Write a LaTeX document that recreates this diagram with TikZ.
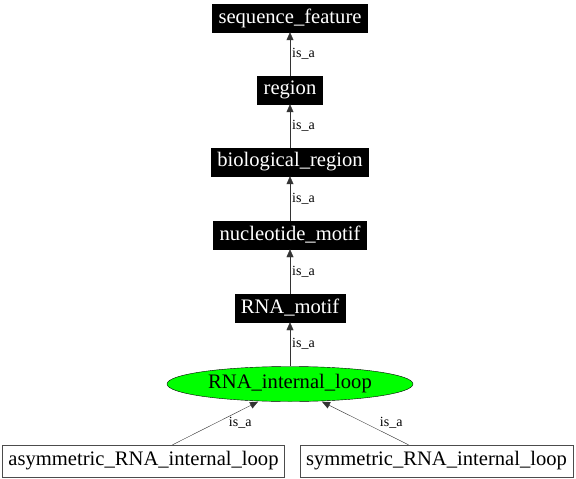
\documentclass[tikz,border=0pt]{standalone}
\usepackage{fontspec}
\setmainfont{Liberation Serif}
\usetikzlibrary{arrows.meta,shapes.geometric}

\tikzset{
  term/.style={fill=black, text=white, draw=black, inner xsep=6bp, inner ysep=0pt,
    minimum height=28bp, font=\fontsize{20.6bp}{22bp}\selectfont},
  child/.style={fill=white, draw=black!70, inner xsep=6bp, inner ysep=0pt,
    minimum height=32bp, font=\fontsize{20.6bp}{22bp}\selectfont},
  focus/.style={ellipse, fill=green, draw=black, inner sep=0pt,
    minimum width=246bp, minimum height=35bp, font=\fontsize{20.6bp}{22bp}\selectfont},
  isa/.style={draw=black!80, -{Triangle[length=8bp,width=7bp]}},
  lbl/.style={font=\fontsize{14bp}{16bp}\selectfont, inner sep=2bp}
}

\begin{document}
\begin{tikzpicture}[x=1bp, y=-1bp]
\useasboundingbox (0,0) rectangle (576,479);
% ancestors
\node[term] (seqfeat) at (290,18) {sequence\_feature};
\node[term] (region) at (290,90) {region};
\node[term] (bioreg) at (290,162) {biological\_region};
\node[term] (nucmotif) at (290,235) {nucleotide\_motif};
\node[term] (rnamotif) at (290,308) {RNA\_motif};
% the term itself
\node[focus] (loop) at (290,384) {RNA\_internal\_loop};
% children
\node[child] (asym) at (143.5,461) {asymmetric\_RNA\_internal\_loop};
\node[child] (sym) at (436.5,461) {symmetric\_RNA\_internal\_loop};

% is_a edges
\draw[isa] (region) -- node[lbl, right] {is\_a} (seqfeat);
\draw[isa] (bioreg) -- node[lbl, right] {is\_a} (region);
\draw[isa] (nucmotif) -- node[lbl, right] {is\_a} (bioreg);
\draw[isa] (rnamotif) -- node[lbl, right] {is\_a} (nucmotif);
\draw[isa] (loop) -- node[lbl, right] {is\_a} (rnamotif);
\draw[isa] ([xshift=29bp]asym.north) -- node[lbl, xshift=25bp] {is\_a} ([xshift=-32bp]loop.south);
\draw[isa] ([xshift=-28bp]sym.north) -- node[lbl, xshift=26bp] {is\_a} ([xshift=32bp]loop.south);
\end{tikzpicture}
\end{document}
